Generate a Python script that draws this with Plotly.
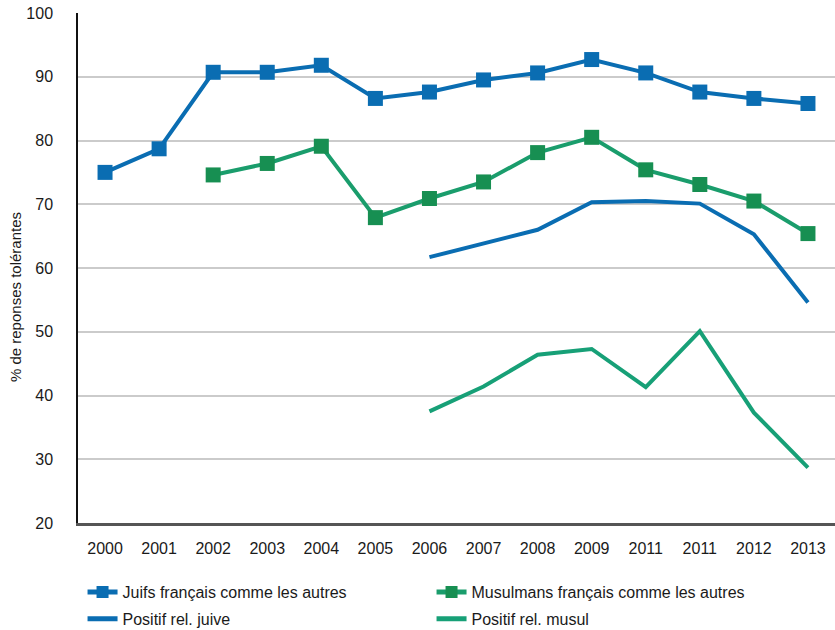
import plotly.graph_objects as go

years = ["2000", "2001", "2002", "2003", "2004", "2005", "2006", "2007",
         "2008", "2009", "2011", "2011", "2012", "2013"]
xpos = list(range(len(years)))

juifs = [75.0, 78.7, 90.7, 90.7, 91.8, 86.6, 87.6, 89.5, 90.6, 92.7, 90.6, 87.6, 86.6, 85.8]
musulmans = [None, None, 74.6, 76.4, 79.1, 67.9, 70.9, 73.5, 78.1, 80.5, 75.4, 73.1, 70.5, 65.4]
pos_juive = [None, None, None, None, None, None, 61.7, 63.8, 66.0, 70.3, 70.5, 70.1, 65.3, 54.6]
pos_musul = [None, None, None, None, None, None, 37.5, 41.4, 46.4, 47.3, 41.3, 50.1, 37.3, 28.7]

names = ["Juifs français comme les autres", "Musulmans français comme les autres",
         "Positif rel. juive", "Positif rel. musul"]
ytitle = "% de reponses tolérantes"

BLUE = "#0a6db2"
GREEN_LINE = "#1a9d6c"
GREEN_MARK = "#178f52"
TEAL = "#17a077"
FONT = "Liberation Sans, Arial, sans-serif"
TXT = "#1a1a1a"

fig = go.Figure()
fig.add_trace(go.Scatter(x=xpos, y=juifs, name=names[0], mode="lines+markers",
                         line=dict(color=BLUE, width=4),
                         marker=dict(symbol="square", size=15, color=BLUE),
                         legend="legend"))
fig.add_trace(go.Scatter(x=xpos, y=musulmans, name=names[1], mode="lines+markers",
                         line=dict(color=GREEN_LINE, width=4),
                         marker=dict(symbol="square", size=15, color=GREEN_MARK),
                         legend="legend"))
fig.add_trace(go.Scatter(x=xpos, y=pos_juive, name=names[2], mode="lines",
                         line=dict(color=BLUE, width=4), legend="legend2"))
fig.add_trace(go.Scatter(x=xpos, y=pos_musul, name=names[3], mode="lines",
                         line=dict(color=TEAL, width=4), legend="legend2"))

legend_common = dict(orientation="h", xanchor="left", yanchor="middle",
                     font=dict(family=FONT, size=16, color=TXT),
                     bgcolor="rgba(0,0,0,0)", entrywidth=304, entrywidthmode="pixels",
                     itemwidth=30, itemsizing="constant", tracegroupgap=0)

fig.update_layout(
    width=835, height=630,
    margin=dict(l=78, r=0, t=13, b=107, autoexpand=False),
    paper_bgcolor="white", plot_bgcolor="white",
    font=dict(family=FONT, size=16, color=TXT),
    showlegend=True,
    legend=dict(x=0.006, y=-0.1353, **legend_common),
    legend2=dict(x=0.006, y=-0.188, **legend_common),
    xaxis=dict(
        range=[-0.5, 13.5], tickmode="array", tickvals=xpos, ticktext=years,
        showgrid=False, zeroline=False, showline=True, linecolor="#555555", linewidth=2.5,
        ticks="", ticklabelstandoff=9, automargin=False,
        tickfont=dict(family=FONT, size=16, color=TXT),
    ),
    yaxis=dict(
        range=[20, 100], tickmode="array", tickvals=list(range(20, 101, 10)),
        showgrid=True, gridcolor="#cbcbcb", gridwidth=1.6, zeroline=False,
        showline=True, linecolor="#111111", linewidth=1.5, ticks="",
        ticklabelstandoff=20, automargin=False,
        tickfont=dict(family=FONT, size=16, color=TXT),
    ),
    annotations=[dict(
        text=ytitle, textangle=-90, xref="paper", yref="paper",
        x=-0.0832, y=0.443, xanchor="center", yanchor="middle", showarrow=False,
        font=dict(family=FONT, size=15, color=TXT),
    )],
)

fig.write_html(
    "out.html",
    config={"displayModeBar": False},
    post_script="document.body.style.margin='0';document.body.style.overflow='hidden';",
)
